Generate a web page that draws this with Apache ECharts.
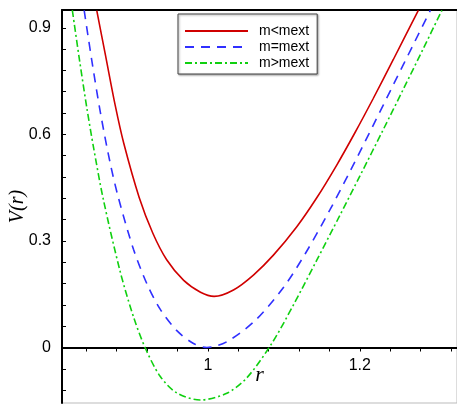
<!DOCTYPE html>
<html>
<head>
<meta charset="utf-8">
<script src="https://cdn.jsdelivr.net/npm/echarts@6/dist/echarts.min.js"></script>
<style>html,body{margin:0;padding:0;background:#fff;}#c{width:457px;height:404px;}</style>
</head>
<body>
<div id="c"></div>
<script>
// Data
const rRed = [0.8538,0.8654,0.8780,0.8893,0.9096,0.9276,0.9458,0.9682,0.9903,1.0083,1.0337,1.0600,1.0863,1.1171,1.1434,1.1697,1.1938,1.2179,1.2442,1.2771];
const vRed = [0.9480,0.8208,0.6822,0.5748,0.4225,0.3217,0.2471,0.1889,0.1557,0.1440,0.1620,0.2040,0.2600,0.3400,0.4215,0.5136,0.6052,0.7016,0.8107,0.9490];
const rBlue = [0.8372,0.8482,0.8592,0.8715,0.8824,0.9021,0.9197,0.9372,0.9592,0.9811,0.9987,1.0250,1.0622,1.0995,1.1280,1.1610,1.1872,1.2180,1.2442,1.2705,1.2929];
const vBlue = [0.9490,0.7945,0.6537,0.5184,0.4203,0.2765,0.1797,0.1079,0.0474,0.0113,0.0000,0.0163,0.0758,0.1691,0.2632,0.3886,0.4960,0.6269,0.7396,0.8527,0.9490];
const rGreen = [0.8216,0.8311,0.8408,0.8495,0.8622,0.8846,0.9021,0.9175,0.9372,0.9592,0.9899,1.0250,1.0513,1.0842,1.1126,1.1434,1.1741,1.2004,1.2311,1.2574,1.2837,1.3081];
const vGreen = [0.9494,0.8082,0.6729,0.5635,0.4189,0.2135,0.0864,-0.0008,-0.0810,-0.1280,-0.1477,-0.1288,-0.0854,0.0116,0.1195,0.2458,0.3732,0.4837,0.6142,0.7273,0.8417,0.9490];
const seriesNames = ['m<mext','m=mext','m>mext'];
const xTicks = [0.84,0.88,0.92,0.96,1.00,1.04,1.08,1.12,1.16,1.20,1.24,1.28,1.32];
const xLabels = [1, 1.2];
const yTicks = [-0.12,-0.06,0,0.06,0.12,0.18,0.24,0.30,0.36,0.42,0.48,0.54,0.60,0.66,0.72,0.78,0.84,0.90];
const yLabels = [0, 0.3, 0.6, 0.9];

const zip = (a,b) => a.map((x,i)=>[x,b[i]]);
const chart = echarts.init(document.getElementById('c'));
const sans = 'Liberation Sans, Arial, sans-serif';
const serif = 'Liberation Serif, Times New Roman, serif';
const X_MIN = 0.808, X_MAX = 1.328, Y_MIN = -0.1562, Y_MAX = 0.95;
const GRID = { left: 62, right: 0, top: 10, bottom: 1 };
const plotH = 404 - GRID.top - GRID.bottom;
const zeroOffset = -(plotH * (0 - Y_MIN) / (Y_MAX - Y_MIN));
chart.setOption({
  animation: false,
  backgroundColor: '#fff',
  grid: Object.assign({ containLabel: false, outerBoundsMode: 'none',
    show: true, borderColor: '#bbbbbb', borderWidth: 1 }, GRID),
  legend: {
    orient: 'vertical', left: 178, top: 14,
    padding: [10, 8, 4, 6], itemGap: 2, itemWidth: 63, itemHeight: 14,
    backgroundColor: '#fff', borderColor: '#444', borderWidth: 1,
    shadowColor: 'rgba(0,0,0,0.35)', shadowBlur: 2, shadowOffsetX: 1, shadowOffsetY: 1,
    itemStyle: { opacity: 0 },
    formatter: n => '{t|' + n + '}',
    textStyle: { fontFamily: sans, fontSize: 14, color: '#000',
      rich: { t: { fontFamily: sans, fontSize: 14, color: '#000', padding: [0, 0, 0, 6], lineHeight: 14 } } },
    data: seriesNames
  },
  xAxis: [{
    type: 'value', min: X_MIN, max: X_MAX, position: 'bottom', offset: zeroOffset,
    axisLine: { onZero: false, lineStyle: { color: '#000', width: 2 } },
    axisTick: { show: true, inside: false, length: 4, lineStyle: { color: '#000', width: 1 }, customValues: xTicks },
    axisLabel: { customValues: xLabels, fontFamily: sans, fontSize: 16, color: '#000', margin: 10,
      formatter: v => String(Math.round(v*10)/10) },
    splitLine: { show: false },
    name: 'r', nameLocation: 'middle', nameGap: 17, nameMoveOverlap: false,
    nameTextStyle: { fontFamily: serif, fontStyle: 'italic', fontSize: 22, color: '#000' }
  }, {
    type: 'value', position: 'top', min: X_MIN, max: X_MAX,
    axisLine: { show: true, onZero: false, lineStyle: { color: '#000', width: 2 } },
    axisTick: { show: false }, axisLabel: { show: false }, splitLine: { show: false }
  }],
  yAxis: {
    type: 'value', min: Y_MIN, max: Y_MAX,
    axisLine: { show: true, onZero: false, lineStyle: { color: '#000', width: 2 } },
    axisTick: { show: true, inside: true, length: 4, lineStyle: { color: '#000', width: 1 }, customValues: yTicks },
    axisLabel: { customValues: yLabels, fontFamily: sans, fontSize: 16, color: '#000', margin: 11,
      formatter: v => String(Math.round(v*10)/10) },
    splitLine: { show: false },
    name: 'V(r)', nameLocation: 'middle', nameGap: 34, nameRotate: 90, nameMoveOverlap: false,
    nameTextStyle: { fontFamily: serif, fontStyle: 'italic', fontSize: 20, color: '#000' }
  },
  series: [
    { name: seriesNames[0], type: 'line', data: zip(rRed, vRed), smooth: 0.3, showSymbol: false, symbol: 'none',
      lineStyle: { color: '#d00000', width: 1.6, type: 'solid' }, itemStyle: { color: '#d00000' }, clip: true },
    { name: seriesNames[1], type: 'line', data: zip(rBlue, vBlue), smooth: 0.3, showSymbol: false, symbol: 'none',
      lineStyle: { color: '#3030ff', width: 1.6, type: [9, 7] }, itemStyle: { color: '#3030ff' }, clip: true },
    { name: seriesNames[2], type: 'line', data: zip(rGreen, vGreen), smooth: 0.3, showSymbol: false, symbol: 'none',
      lineStyle: { color: '#10d010', width: 1.6, type: [7, 3, 2, 3] }, itemStyle: { color: '#10d010' }, clip: true }
  ]
});
</script>
</body>
</html>
